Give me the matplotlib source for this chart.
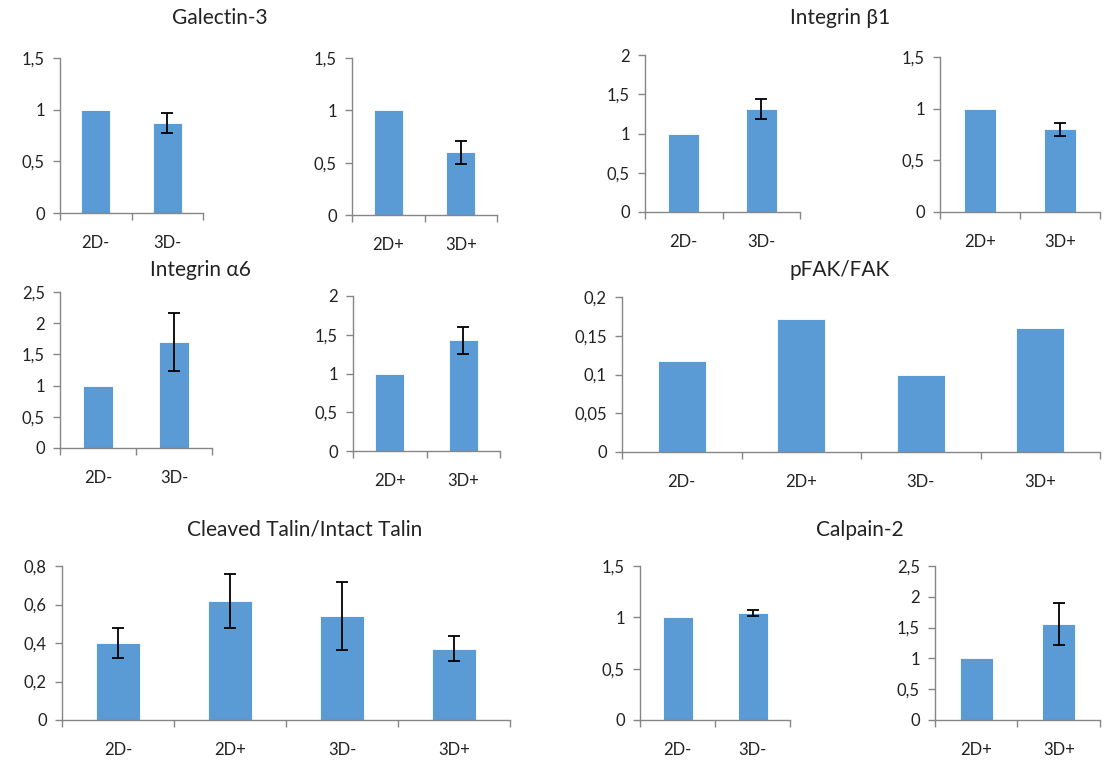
import matplotlib.pyplot as plt
from matplotlib.ticker import FuncFormatter

plt.rcParams['font.family'] = ['Lato', 'DejaVu Sans']

# Data
gal_neg = [1.0, 0.87]
gal_neg_err = [0, 0.10]
gal_pos = [1.0, 0.60]
gal_pos_err = [0, 0.11]

itb1_neg = [1.0, 1.31]
itb1_neg_err = [0, 0.13]
itb1_pos = [1.0, 0.80]
itb1_pos_err = [0, 0.06]

ita6_neg = [1.0, 1.70]
ita6_neg_err = [0, 0.46]
ita6_pos = [1.0, 1.43]
ita6_pos_err = [0, 0.175]

pfak = [0.117, 0.172, 0.100, 0.160]

talin = [0.40, 0.62, 0.54, 0.37]
talin_err = [0.08, 0.14, 0.175, 0.065]

calp_neg = [1.0, 1.04]
calp_neg_err = [0, 0.03]
calp_pos = [1.0, 1.56]
calp_pos_err = [0, 0.34]

cats_neg = ['2D-', '3D-']
cats_pos = ['2D+', '3D+']
cats_all = ['2D-', '2D+', '3D-', '3D+']

BAR = '#5B9BD5'
GRID = '#868686'
W, H = 1114, 763

fig = plt.figure(figsize=(W / 100, H / 100), dpi=100)


def comma(v, pos):
    s = ('%g' % round(v, 4))
    return s.replace('.', ',')


def panel(box, cats, vals, errs, ymax, step):
    x0, x1, ytop, y0 = box
    ax = fig.add_axes([x0 / W, 1 - y0 / H, (x1 - x0) / W, (y0 - ytop) / H])
    n = len(cats)
    pos = [i + 0.5 for i in range(n)]
    ax.bar(pos, vals, width=0.4, color=BAR, edgecolor='white', linewidth=0.6, zorder=2)
    if errs is not None:
        shown = [(p, v, e) for p, v, e in zip(pos, vals, errs) if e > 0]
        ax.errorbar([s[0] for s in shown], [s[1] for s in shown],
                    yerr=[s[2] for s in shown], fmt='none', ecolor='black',
                    elinewidth=1.3, capsize=4, capthick=1.3, zorder=3)
    ax.set_xlim(0, n)
    ax.set_ylim(0, ymax)
    ticks = [i * step for i in range(int(round(ymax / step)) + 1)]
    ax.set_yticks(ticks)
    ax.yaxis.set_major_formatter(FuncFormatter(comma))
    ax.set_xticks(range(n + 1))
    ax.set_xticklabels([])
    ax.set_xticks(pos, minor=True)
    ax.set_xticklabels(cats, minor=True)
    ax.tick_params(axis='x', which='major', length=5, color=GRID, width=1)
    ax.tick_params(axis='x', which='minor', length=0, pad=16, labelsize=12,
                   labelcolor='#222222')
    ax.tick_params(axis='y', length=5, color=GRID, width=1, labelsize=12, pad=6,
                   labelcolor='#222222')
    for s in ['top', 'right']:
        ax.spines[s].set_visible(False)
    for s in ['left', 'bottom']:
        ax.spines[s].set_color(GRID)
        ax.spines[s].set_linewidth(1)
    return ax


panel((60, 203, 58, 213), cats_neg, gal_neg, gal_neg_err, 1.5, 0.5)
panel((352, 497, 58, 215), cats_pos, gal_pos, gal_pos_err, 1.5, 0.5)
panel((645, 800, 55, 212), cats_neg, itb1_neg, itb1_neg_err, 2.0, 0.5)
panel((940, 1100, 57, 212), cats_pos, itb1_pos, itb1_pos_err, 1.5, 0.5)
panel((60, 212, 292, 448), cats_neg, ita6_neg, ita6_neg_err, 2.5, 0.5)
panel((353, 500, 296, 451), cats_pos, ita6_pos, ita6_pos_err, 2.0, 0.5)
panel((622, 1100, 297, 452), cats_all, pfak, None, 0.2, 0.05)
panel((62, 510, 566, 720), cats_all, talin, talin_err, 0.8, 0.2)
panel((640, 790, 566, 720), cats_neg, calp_neg, calp_neg_err, 1.5, 0.5)
panel((935, 1100, 566, 720), cats_pos, calp_pos, calp_pos_err, 2.5, 0.5)

titles = [('Galectin-3', 220, 18), ('Integrin β1', 840, 18),
          ('Integrin α6', 200, 270), ('pFAK/FAK', 840, 270),
          ('Cleaved Talin/Intact Talin', 305, 530), ('Calpain-2', 860, 530)]
for t, x, y in titles:
    fig.text(x / W, 1 - y / H, t, ha='center', va='center', fontsize=15, color='#222222')

fig.savefig('out.png', dpi=100)
